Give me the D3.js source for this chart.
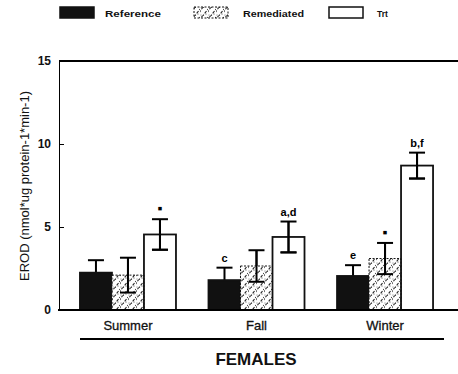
<!DOCTYPE html>
<html>
<head>
<meta charset="utf-8">
<script src="https://cdn.jsdelivr.net/npm/d3@7"></script>
<style>
  body { margin: 0; background: #fff; }
  svg { display: block; font-family: "Liberation Sans", Arial, sans-serif; }
  .axis path, .axis line { stroke: #000; shape-rendering: crispEdges; }
</style>
</head>
<body>
<div id="chart"></div>
<script>
// data
const seasons = ["Summer", "Fall", "Winter"];
const groups = ["Reference", "Remediated", "Trt"];
const reference = [2.25, 1.8, 2.05];
const referenceErr = [0.75, 0.75, 0.65];
const remediated = [2.1, 2.65, 3.1];
const remediatedErr = [1.05, 0.95, 0.94];
const trt = [4.55, 4.4, 8.7];
const trtErr = [0.92, 0.93, 0.78];
const sigLabels = [["", "", "\u25AA"], ["c", "", "a,d"], ["e", "\u25AA", "b,f"]];
const yTicks = [0, 5, 10, 15];

const W = 458, H = 374;
const svg = d3.select("#chart").append("svg")
  .attr("width", W).attr("height", H);

const defs = svg.append("defs");
// hatched fill for remediated bars
const pat = defs.append("pattern")
  .attr("id", "hatch")
  .attr("patternUnits", "userSpaceOnUse")
  .attr("width", 8).attr("height", 8);
pat.append("rect").attr("width", 8).attr("height", 8).attr("fill", "#fff");
pat.append("path")
  .attr("d", "M-1,5 L3,-1 M2,9 L8,1")
  .attr("stroke", "#222").attr("stroke-width", 1.1)
  .attr("stroke-dasharray", "3,1.5");
pat.append("circle").attr("cx", 6).attr("cy", 6).attr("r", 0.6).attr("fill", "#444");
pat.append("circle").attr("cx", 1).attr("cy", 7).attr("r", 0.5).attr("fill", "#444");

const y = d3.scaleLinear().domain([0, 15]).range([310, 61]);
const x0 = d3.scaleBand().domain(seasons).range([59, 454])
  .paddingInner(0.253).paddingOuter(0.163);
const x1 = d3.scaleBand().domain(groups).range([0, x0.bandwidth()]);

const series = {
  Reference: { v: reference, e: referenceErr, fill: "#111" },
  Remediated: { v: remediated, e: remediatedErr, fill: "url(#hatch)" },
  Trt: { v: trt, e: trtErr, fill: "#fff" }
};

const rows = [];
seasons.forEach(function(s, i) {
  groups.forEach(function(g, j) {
    rows.push({ season: s, group: g, value: series[g].v[i], err: series[g].e[i], label: sigLabels[i][j] });
  });
});

const bars = svg.append("g");

// error bars first so filled bars hide the lower whisker of the black bars
const eb = bars.selectAll(".err").data(rows).enter().append("g")
  .attr("transform", function(d) { return "translate(" + (x0(d.season) + x1(d.group) + x1.bandwidth() / 2) + ",0)"; })
  .attr("stroke", "#000").attr("stroke-width", 2);
eb.append("line")
  .attr("y1", function(d) { return y(d.value - d.err); })
  .attr("y2", function(d) { return y(d.value + d.err); });
eb.append("line").attr("x1", -8).attr("x2", 8)
  .attr("y1", function(d) { return y(d.value + d.err); })
  .attr("y2", function(d) { return y(d.value + d.err); });
eb.append("line").attr("x1", -8).attr("x2", 8)
  .attr("y1", function(d) { return y(d.value - d.err); })
  .attr("y2", function(d) { return y(d.value - d.err); });

bars.selectAll(".bar").data(rows).enter().append("rect")
  .attr("x", function(d) { return x0(d.season) + x1(d.group); })
  .attr("y", function(d) { return y(d.value); })
  .attr("width", x1.bandwidth())
  .attr("height", function(d) { return y(0) - y(d.value); })
  .attr("fill", function(d) { return series[d.group].fill; })
  .attr("fill-opacity", function(d) { return d.group === "Trt" ? 0 : 1; })
  .attr("stroke", "#111")
  .attr("stroke-width", function(d) { return d.group === "Remediated" ? 1 : 1.8; })
  .attr("stroke-dasharray", function(d) { return d.group === "Remediated" ? "2,1.5" : null; });

// whiskers again on top of the hatched and open bars
const eb2 = bars.selectAll(".err2").data(rows.filter(function(d) { return d.group !== "Reference"; })).enter().append("g")
  .attr("transform", function(d) { return "translate(" + (x0(d.season) + x1(d.group) + x1.bandwidth() / 2) + ",0)"; })
  .attr("stroke", "#000").attr("stroke-width", 2);
eb2.append("line")
  .attr("y1", function(d) { return y(d.value - d.err); })
  .attr("y2", function(d) { return y(d.value + d.err); });
eb2.append("line").attr("x1", -8).attr("x2", 8)
  .attr("y1", function(d) { return y(d.value - d.err); })
  .attr("y2", function(d) { return y(d.value - d.err); });

// significance letters
bars.selectAll(".sig").data(rows.filter(function(d) { return d.label; })).enter().append("text")
  .attr("x", function(d) { return x0(d.season) + x1(d.group) + x1.bandwidth() / 2; })
  .attr("y", function(d) { return y(d.value + d.err) - 6; })
  .attr("text-anchor", "middle")
  .attr("font-size", function(d) { return d.label === "\u25AA" ? 14 : 11; })
  .attr("font-weight", "bold")
  .text(function(d) { return d.label; });

// axes
const yAxis = svg.append("g").attr("class", "axis")
  .attr("transform", "translate(59,0)")
  .call(d3.axisLeft(y).tickValues(yTicks).tickSize(-5).tickPadding(8));
yAxis.select(".domain").attr("stroke-width", 1.8);
yAxis.selectAll("text").attr("font-size", 12).attr("font-weight", "bold").attr("fill", "#111");

svg.append("line").attr("x1", 59).attr("x2", W).attr("y1", y(15)).attr("y2", y(15))
  .attr("stroke", "#000").attr("stroke-width", 2);
svg.append("line").attr("x1", 58).attr("x2", W).attr("y1", y(0)).attr("y2", y(0))
  .attr("stroke", "#000").attr("stroke-width", 2);

svg.append("g").selectAll("text").data(seasons).enter().append("text")
  .attr("x", function(d) { return x0(d) + x0.bandwidth() / 2; })
  .attr("y", 330)
  .attr("text-anchor", "middle")
  .attr("font-size", 13)
  .attr("fill", "#111")
  .attr("stroke", "#111").attr("stroke-width", 0.3)
  .text(function(d) { return d; });

svg.append("line").attr("x1", 80).attr("x2", 444).attr("y1", 339).attr("y2", 339)
  .attr("stroke", "#000").attr("stroke-width", 2);
svg.append("text").attr("x", 256).attr("y", 365).attr("text-anchor", "middle")
  .attr("font-size", 17).attr("font-weight", "bold").attr("fill", "#111")
  .text("FEMALES");

svg.append("text")
  .attr("transform", "translate(29,186) rotate(-90)")
  .attr("text-anchor", "middle")
  .attr("font-size", 13).attr("fill", "#111")
  .text("EROD (nmol*ug protein-1*min-1)");

// legend
const legendX = [60, 194, 329];
const legendTextX = [105, 243, 377];
const legendTextW = [56, 61, 11];
const legend = svg.append("g");
groups.forEach(function(g, i) {
  legend.append("rect")
    .attr("x", legendX[i]).attr("y", 7).attr("width", 34).attr("height", 11)
    .attr("fill", series[g].fill)
    .attr("stroke", "#111")
    .attr("stroke-width", g === "Remediated" ? 1 : 1.5)
    .attr("stroke-dasharray", g === "Remediated" ? "2,1.5" : null);
  legend.append("text")
    .attr("x", legendTextX[i]).attr("y", 17)
    .attr("font-size", 9).attr("font-weight", "bold").attr("fill", "#111")
    .attr("textLength", legendTextW[i]).attr("lengthAdjust", "spacingAndGlyphs")
    .text(g);
});
</script>
</body>
</html>
